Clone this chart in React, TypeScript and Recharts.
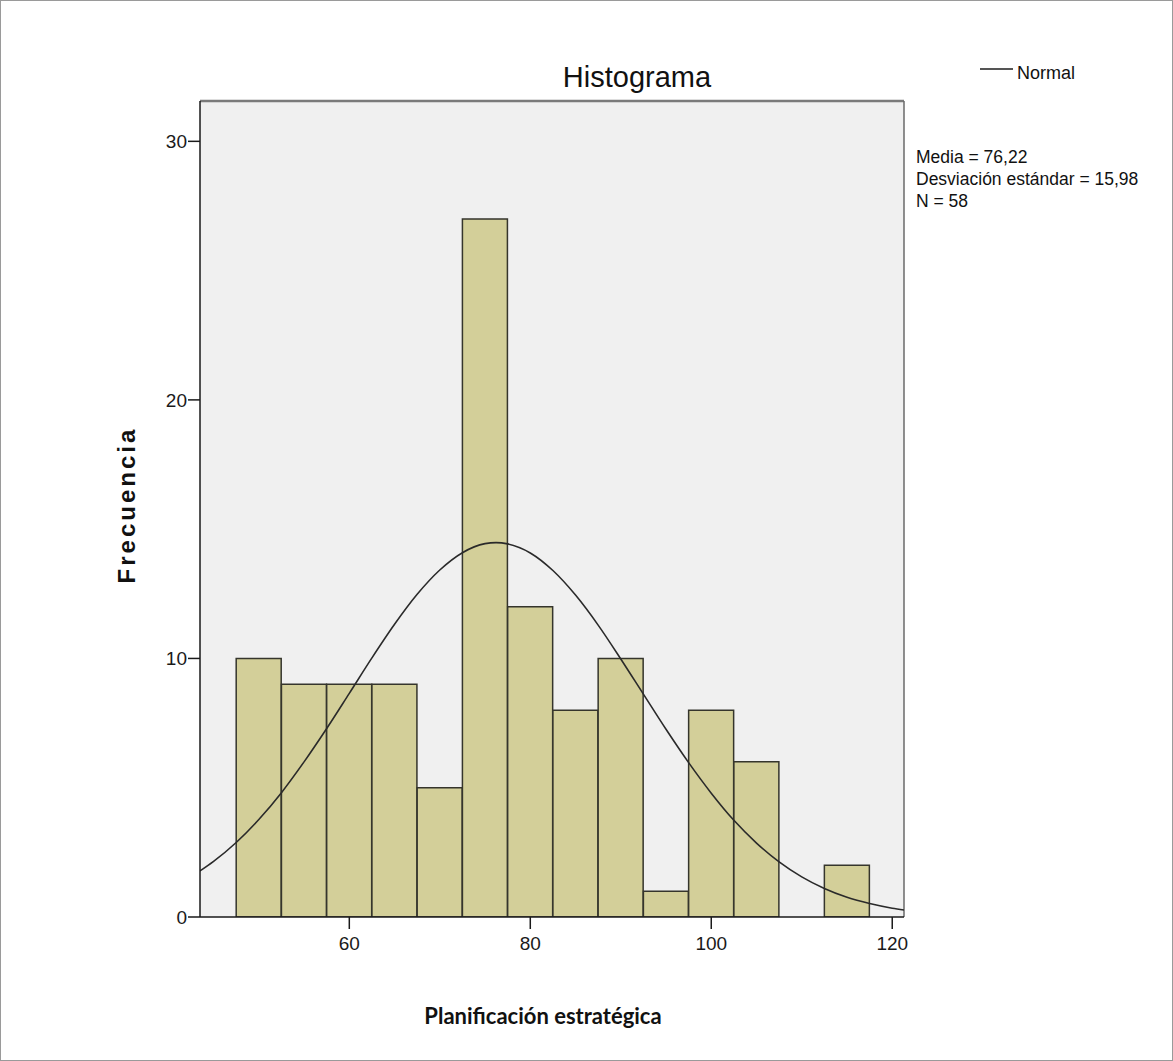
import React from 'react';
import { ComposedChart, Bar, Line, XAxis, YAxis, CartesianGrid, ReferenceLine } from 'recharts';

// Histogram bins (bin centres) and frequencies
const binCenters = [50, 55, 60, 65, 70, 75, 80, 85, 90, 95, 100, 105, 110, 115];
const frequencies = [10, 9, 9, 9, 5, 27, 12, 8, 10, 1, 8, 6, 0, 2];

// Normal curve
const curveX = [43.5, 45, 47.5, 50, 52.5, 55, 57.5, 60, 62.5, 65, 67.5, 70, 72.5, 75, 76.22, 77.5, 80, 82.5, 85, 87.5, 90, 92.5, 95, 97.5, 100, 102.5, 105, 107.5, 110, 112.5, 115, 117.5, 120, 121.3];
const curveY = [1.78, 2.15, 2.88, 3.77, 4.81, 6.0, 7.29, 8.65, 10.02, 11.32, 12.48, 13.42, 14.09, 14.44, 14.48, 14.43, 14.08, 13.4, 12.45, 11.29, 9.98, 8.62, 7.26, 5.97, 4.79, 3.74, 2.86, 2.13, 1.55, 1.1, 0.76, 0.52, 0.34, 0.27];

const xTicks = [60, 80, 100, 120];
const yTicks = [0, 10, 20, 30];
const xMin = 43.5;
const xMax = 121.3;
const yMin = 0;
const yMax = 31.56;

const title = 'Histograma';
const legendLabel = 'Normal';
const statsLines = ['Media = 76,22', 'Desviación estándar = 15,98', 'N = 58'];
const yTitle = 'Frecuencia';
const xTitle = 'Planificación estratégica';

const barData = binCenters.map((b, i) => ({ bin: b, freq: frequencies[i] }));
const curveData = curveX.map((x, i) => ({ x, y: curveY[i] }));

const SANS = '"Liberation Sans", Arial, sans-serif';

export default function App() {
  return (
    <div
      style={{
        position: 'absolute',
        left: 0,
        top: 0,
        width: 1173,
        height: 1061,
        boxSizing: 'border-box',
        border: '1px solid #9a9a9a',
        background: '#fff',
        overflow: 'hidden',
      }}
    >
      <div style={{ position: 'absolute', left: -1, top: -1 }}>
        <ComposedChart
          width={1173}
          height={1061}
          data={barData}
          margin={{ top: 101, right: 269, bottom: 100, left: 140 }}
          barCategoryGap={0}
          barGap={0}
        >
          <CartesianGrid fill="#f0f0f0" horizontal={false} vertical={false} />
          <XAxis
            xAxisId="main"
            dataKey="bin"
            type="number"
            domain={[xMin, xMax]}
            ticks={xTicks}
            allowDataOverflow
            height={44}
            tickSize={12}
            tickMargin={8}
            axisLine={{ stroke: '#1a1a1a', strokeWidth: 1.5 }}
            tickLine={{ stroke: '#1a1a1a', strokeWidth: 1.5 }}
            tick={{ fill: '#1a1a1a', fontSize: 19, fontFamily: SANS }}
          />
          <XAxis xAxisId="curve" dataKey="x" type="number" domain={[xMin, xMax]} allowDataOverflow hide height={0} />
          <YAxis
            yAxisId="main"
            type="number"
            domain={[yMin, yMax]}
            ticks={yTicks}
            allowDataOverflow
            width={60}
            tickSize={12}
            tickMargin={1}
            axisLine={{ stroke: '#1a1a1a', strokeWidth: 1.5 }}
            tickLine={{ stroke: '#1a1a1a', strokeWidth: 1.5 }}
            tick={{ fill: '#1a1a1a', fontSize: 19, fontFamily: SANS }}
          />
          <ReferenceLine xAxisId="main" yAxisId="main" y={yMax} stroke="#7a7a7a" strokeWidth={2.5} />
          <ReferenceLine xAxisId="main" yAxisId="main" x={xMax} stroke="#6a6a6a" strokeWidth={1.5} />
          <Bar
            xAxisId="main"
            yAxisId="main"
            dataKey="freq"
            fill="#d3cf99"
            stroke="#35352c"
            strokeWidth={1.5}
            isAnimationActive={false}
          />
          <Line
            xAxisId="curve"
            yAxisId="main"
            data={curveData}
            dataKey="y"
            type="monotone"
            stroke="#2a2a2a"
            strokeWidth={1.6}
            dot={false}
            activeDot={false}
            isAnimationActive={false}
          />
        </ComposedChart>
        <svg
          width={1173}
          height={1061}
          style={{ position: 'absolute', left: 0, top: 0, pointerEvents: 'none' }}
        >
          <text x={637} y={87} textAnchor="middle" fontFamily={SANS} fontSize={29} fill="#111">
            {title}
          </text>
          <line x1={980} y1={69} x2={1013} y2={69} stroke="#555" strokeWidth={2} />
          <text x={1017} y={79} fontFamily={SANS} fontSize={18} fill="#111">
            {legendLabel}
          </text>
          {statsLines.map((s, i) => (
            <text key={i} x={916} y={163 + i * 22} fontFamily={SANS} fontSize={17.5} fill="#111">
              {s}
            </text>
          ))}
          <text
            x={126}
            y={505}
            transform="rotate(-90 126 505)"
            textAnchor="middle"
            dominantBaseline="central"
            fontFamily={SANS}
            fontWeight="bold"
            fontSize={24}
            letterSpacing={3}
            fill="#111"
          >
            {yTitle}
          </text>
          <text
            x={543}
            y={1024}
            textAnchor="middle"
            fontFamily='Lato, "Open Sans", sans-serif'
            fontWeight="bold"
            fontSize={22}
            fill="#111"
          >
            {xTitle}
          </text>
        </svg>
      </div>
    </div>
  );
}
